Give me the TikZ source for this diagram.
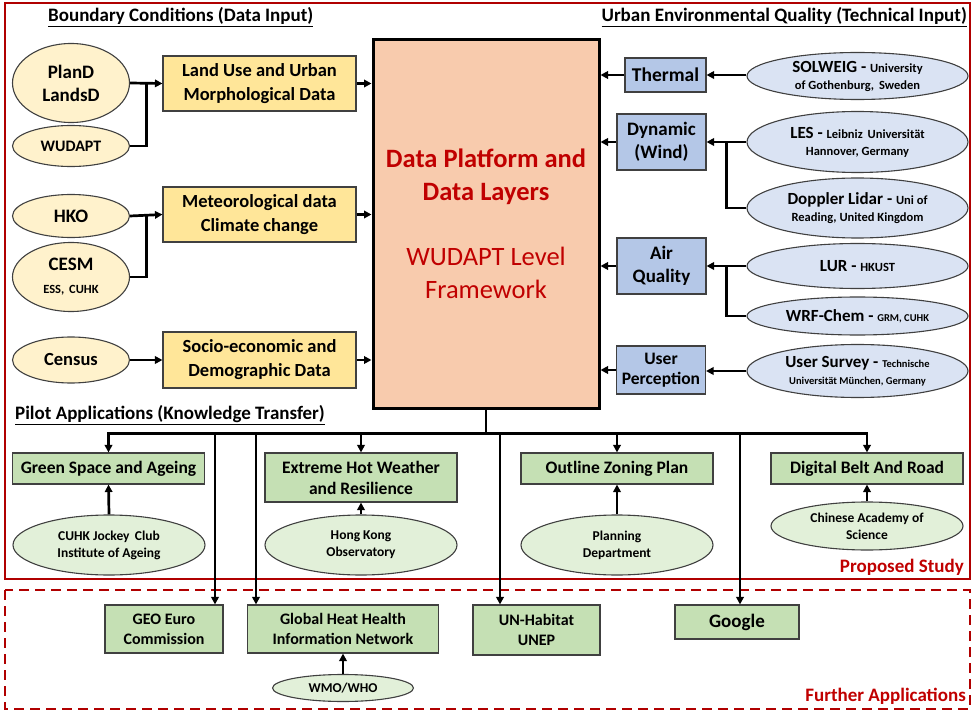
\documentclass[tikz,border=0pt]{standalone}
\usepackage{fontspec}
\setmainfont{Carlito}
\usepackage{xcolor}
\usepackage{tikz}
\usetikzlibrary{arrows.meta,shapes.geometric,calc}

\definecolor{framered}{RGB}{176,0,0}
\definecolor{textred}{RGB}{192,0,0}
\definecolor{edgegray}{RGB}{64,64,64}
\definecolor{coreorange}{RGB}{248,203,173}
\definecolor{yelbox}{RGB}{255,230,153}
\definecolor{yelell}{RGB}{255,242,204}
\definecolor{bluebox}{RGB}{180,199,231}
\definecolor{blueell}{RGB}{218,227,243}
\definecolor{grnbox}{RGB}{197,224,180}
\definecolor{grnell}{RGB}{226,240,217}

\newcommand{\fsz}[2]{\fontsize{#1}{#2}\selectfont}
\newcommand{\sm}{\fsz{12.5}{16}}
\newcommand{\xsm}{\fsz{10.5}{14}}

\begin{document}
\begin{tikzpicture}[x=1pt,y=-1pt,
  arr/.style={-{Triangle[length=7.5pt,width=7.5pt]},line width=2.7pt},
  ln/.style={line width=2.7pt},
  box/.style={rectangle,draw=edgegray,line width=1.1pt,inner sep=2pt,align=center,font=\bfseries},
  ell/.style={ellipse,draw=edgegray,line width=1.1pt,inner sep=0pt,align=center,font=\bfseries},
  ybox/.style={box,fill=yelbox,minimum width=193pt,font=\bfseries\fsz{18.5}{24}},
  yell/.style={ell,fill=yelell,minimum width=117pt,font=\bfseries\fsz{19}{23}},
  bbox/.style={box,fill=bluebox,minimum width=89pt,font=\bfseries\fsz{19}{23}},
  bell/.style={ell,fill=blueell,minimum width=221pt,font=\bfseries\fsz{17}{17}},
  gbox/.style={box,fill=grnbox,minimum width=192pt,font=\bfseries\fsz{17.5}{21}},
  gell/.style={ell,fill=grnell,minimum width=192pt,font=\bfseries\fsz{13.5}{17}},
  fbox/.style={box,fill=grnbox,minimum height=48pt,font=\bfseries\fsz{16}{20}},
  title/.style={font=\bfseries\fsz{19}{22},inner sep=0pt}]

  \useasboundingbox (0,0) rectangle (975,714);

  %% frames
  \draw[framered,line width=2.6pt] (5,3) rectangle (970,579);
  \draw[framered,line width=2.6pt,dash pattern=on 10pt off 6pt] (5,590) rectangle (970,709);

  %% section titles
  \node[title,anchor=west] (bctitle) at (48,17) {\underline{Boundary Conditions (Data Input)}};
  \node[title,anchor=east] (ueqtitle) at (967,17) {\underline{Urban Environmental Quality (Technical Input)}};
  \node[title,anchor=west] (pattitle) at (15,415) {\underline{Pilot Applications (Knowledge Transfer)}};
  \node[title,anchor=base east,text=textred] (pstitle) at (964,572) {Proposed Study};
  \node[title,anchor=base east,text=textred] (fatitle) at (966,701) {Further Applications};

  %% central platform
  \node[rectangle,draw=black,line width=3pt,fill=coreorange,minimum width=226pt,minimum height=368pt,
        align=center,text=textred,font=\fsz{26.5}{33}] (core) at (486,224)
        {\textbf{Data Platform and}\\\textbf{Data Layers}\\[32pt]WUDAPT Level\\Framework};

  %% boundary conditions (left)
  \node[yell,minimum height=79pt] (pland) at (71,83) {PlanD\\LandsD};
  \node[yell,minimum height=41pt,font=\bfseries\fsz{16}{20}] (wudapt) at (71,146) {WUDAPT};
  \node[yell,minimum height=43pt] (hko) at (71,216) {HKO};
  \node[yell,minimum height=69pt] (cesm) at (71,277) {CESM\\{\fsz{12.5}{15}ESS,\, CUHK}};
  \node[yell,minimum height=46pt,font=\bfseries\fsz{18.5}{22}] (census) at (71,360) {Census};

  \node[ybox,minimum height=55pt] (landuse) at (259.5,83.5) {Land Use and Urban\\Morphological Data};
  \node[ybox,minimum height=55pt] (meteo) at (259.5,214.5) {Meteorological data\\Climate change};
  \node[ybox,minimum height=56pt] (socio) at (259.5,360) {Socio-economic and\\Demographic Data};

  \coordinate (jland) at ($(pland.east)!.5!(landuse.west)$);
  \coordinate (jmet) at ($(hko.east)!.5!(meteo.west)$);
  \draw[arr] (pland.east) -- (landuse.west);
  \draw[ln] (wudapt.east) -| (jland);
  \draw[arr] (hko.east) -- (meteo.west);
  \draw[ln] (cesm.east) -| (jmet);
  \draw[arr] (census.east) -- (socio.west);
  \draw[arr] (landuse.east) -- (landuse.east -| core.west);
  \draw[arr] (meteo.east) -- (meteo.east -| core.west);
  \draw[arr] (socio.east) -- (socio.east -| core.west);

  %% technical input (right)
  \node[bbox,minimum width=81pt,minimum height=34pt,font=\bfseries\fsz{19.5}{23}] (thermal) at (665.5,75) {Thermal};
  \node[bbox,minimum height=56pt] (dynamic) at (661.5,142) {Dynamic\\(Wind)};
  \node[bbox,minimum height=56pt] (airq) at (661.5,266) {Air\\Quality};
  \node[bbox,minimum height=48pt,font=\bfseries\fsz{17.5}{20}] (userp) at (661,370) {User\\Perception};

  \node[bell,minimum height=47pt] (solweig) at (857.5,76) {SOLWEIG - {\sm University}\\{\sm of Gothenburg,\, Sweden}};
  \node[bell,minimum height=61pt] (les) at (857.5,142) {LES - {\sm Leibniz\, Universität}\\{\sm Hannover, Germany}};
  \node[bell,minimum height=60pt] (doppler) at (857.5,208) {Doppler Lidar - {\sm Uni of}\\{\sm Reading, United Kingdom}};
  \node[bell,minimum height=45pt] (lur) at (857.5,266) {LUR - {\sm HKUST}};
  \node[bell,minimum height=38pt] (wrf) at (857.5,316) {WRF-Chem - {\xsm GRM, CUHK}};
  \node[bell,minimum height=53pt] (survey) at (857.5,371) {User Survey - {\xsm Technische}\\{\xsm Universität München, Germany}};

  \coordinate (jdyn) at ($(dynamic.east)!.5!(les.west)$);
  \coordinate (jair) at ($(airq.east)!.5!(lur.west)$);
  \draw[arr] (solweig.west |- thermal.east) -- (thermal.east);
  \draw[arr] (les.west) -- (dynamic.east);
  \draw[ln] (doppler.west) -| (jdyn);
  \draw[arr] (lur.west) -- (airq.east);
  \draw[ln] (wrf.west) -| (jair);
  \draw[arr] (survey.west) -- (survey.west -| userp.east);
  \draw[arr] (thermal.west) -- (thermal.west -| core.east);
  \draw[arr] (dynamic.west) -- (dynamic.west -| core.east);
  \draw[arr] (airq.west) -- (airq.west -| core.east);
  \draw[arr] (userp.west) -- (userp.west -| core.east);

  %% pilot applications
  \node[gbox,minimum height=31pt] (greensp) at (108.5,468.5) {Green Space and Ageing};
  \node[gbox,minimum height=49pt] (extreme) at (361,477.5) {Extreme Hot Weather\\and Resilience};
  \node[gbox,minimum height=31pt] (ozp) at (617,468.5) {Outline Zoning Plan};
  \node[gbox,minimum height=31pt] (belt) at (867,468.5) {Digital Belt And Road};

  \node[gell,minimum height=60pt] (cuhk) at (109,545) {CUHK Jockey\, Club\\Institute of Ageing};
  \node[gell,minimum height=60pt] (hkobs) at (361,545) {Hong Kong\\Observatory};
  \node[gell,minimum height=60pt] (pland2) at (617,545) {Planning\\Department};
  \node[gell,minimum height=48pt] (cas) at (867,526) {Chinese Academy of\\Science};

  \foreach \s/\t in {cuhk/greensp,hkobs/extreme,pland2/ozp,cas/belt}
    \draw[arr] (\s.north) -- (\t.south);

  %% bus from the platform
  \coordinate (bus) at ($(core.south)+(0,24)$);
  \draw[ln] (core.south) -- (bus);
  \draw[ln,line cap=rect] (bus -| greensp.north) -- (bus -| belt.north);
  \foreach \t in {greensp,extreme,ozp,belt}
    \draw[arr] (bus -| \t.north) -- (\t.north);

  %% further applications
  \node[fbox,minimum width=118pt] (geo) at (164,629) {GEO Euro\\Commission};
  \node[fbox,minimum width=191pt] (ghhin) at (343,629) {Global Heat Health\\Information Network};
  \node[fbox,minimum width=127pt,minimum height=50pt] (unh) at (536.5,630) {UN-Habitat\\UNEP};
  \node[fbox,minimum width=124pt,minimum height=34pt,font=\bfseries\fsz{19}{22}] (google) at (737,622) {Google};
  \node[gell,minimum width=141pt,minimum height=27pt,font=\bfseries\fsz{13.5}{17}] (wmo) at (343,688) {WMO/WHO};
  \draw[arr] (wmo.north) -- (ghhin.south);

  \coordinate (dgeo) at (bus -| 215,0);
  \coordinate (dghh) at (bus -| 256,0);
  \coordinate (dunh) at (bus -| 500,0);
  \coordinate (dggl) at (bus -| 740,0);
  \draw[arr] (dgeo) -- (dgeo |- geo.north);
  \draw[arr] (dghh) -- (dghh |- ghhin.north);
  \draw[arr] (dunh) -- (dunh |- unh.north);
  \draw[arr] (dggl) -- (dggl |- google.north);

\end{tikzpicture}
\end{document}
